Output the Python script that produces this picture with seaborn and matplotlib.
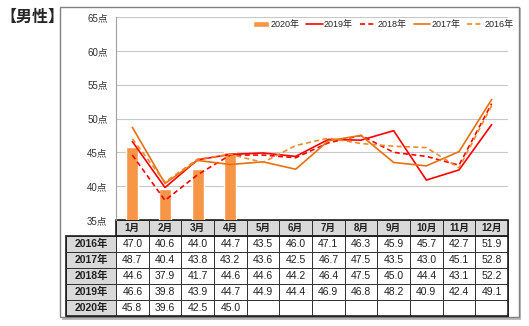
import numpy as np
import pandas as pd
import matplotlib
matplotlib.use("Agg")
import matplotlib.pyplot as plt
import seaborn as sns
from matplotlib.patches import Rectangle

months = ["1月", "2月", "3月", "4月", "5月", "6月", "7月", "8月", "9月", "10月", "11月", "12月"]
v2016 = [47.0, 40.6, 44.0, 44.7, 43.5, 46.0, 47.1, 46.3, 45.9, 45.7, 42.7, 51.9]
v2017 = [48.7, 40.4, 43.8, 43.2, 43.6, 42.5, 46.7, 47.5, 43.5, 43.0, 45.1, 52.8]
v2018 = [44.6, 37.9, 41.7, 44.6, 44.6, 44.2, 46.4, 47.5, 45.0, 44.4, 43.1, 52.2]
v2019 = [46.6, 39.8, 43.9, 44.7, 44.9, 44.4, 46.9, 46.8, 48.2, 40.9, 42.4, 49.1]
v2020 = [45.8, 39.6, 42.5, 45.0]
row_labels = ["2016年", "2017年", "2018年", "2019年", "2020年"]
yticks = [35, 40, 45, 50, 55, 60, 65]

sns.set_style("white")
plt.rcParams["font.family"] = ["Liberation Sans", "Noto Sans CJK JP", "DejaVu Sans"]

fig = plt.figure(figsize=(5.29, 3.26), dpi=100)
W, H = 529, 326
# outer frame with shadow
fig.patches.append(Rectangle((62 / W, 1 - 320 / H), 459 / W, 312 / H, transform=fig.transFigure,
                             facecolor="#bdbdbd", edgecolor="none", zorder=-3))
fig.patches.append(Rectangle((60 / W, 1 - 317 / H), 459 / W, 310 / H, transform=fig.transFigure,
                             facecolor="white", edgecolor="#808080", linewidth=1.0, zorder=-2))
fig.text(0.0, 1 - 17 / H, "【男性】", fontsize=11.5, fontweight="bold",
         family=["Noto Sans CJK JP"], va="center", ha="left")

AXW, AXH = 392, 203
ax = fig.add_axes([116 / W, 1 - 220 / H, AXW / W, AXH / H])
ax.set_facecolor("none")

x = np.arange(len(months))
df_bar = pd.DataFrame({"month": months[:len(v2020)], "val": v2020})
sns.barplot(data=df_bar, x="month", y="val", order=months, color="#F79646", saturation=1,
            width=0.37, ax=ax, label="2020年", zorder=2)

series = [
    ("2019年", v2019, "#FF0000", "-"),
    ("2018年", v2018, "#FF0000", (0, (3, 2))),
    ("2017年", v2017, "#E8700F", "-"),
    ("2016年", v2016, "#EE8A2E", (0, (3, 2))),
]
for name, vals, col, ls in series:
    sns.lineplot(x=x, y=vals, color=col, linestyle=ls, linewidth=1.2, ax=ax, label=name, zorder=3)

ax.set_xlim(-0.5, 11.5)
ax.set_ylim(35, 65)
ax.set_yticks(yticks)
ax.set_yticklabels([f"{t}点" for t in yticks], fontsize=7, color="#303030")
ax.set_xticks([])
ax.set_xlabel("")
ax.set_ylabel("")
ax.tick_params(axis="y", length=0, pad=6)
for t in yticks[1:]:
    ax.axhline(t, color="#c8c8c8", linewidth=0.8, zorder=1)
for s in ["top", "right", "bottom"]:
    ax.spines[s].set_visible(False)
ax.spines["left"].set_color("#a0a0a0")
ax.spines["left"].set_linewidth(0.8)

handles, labels = ax.get_legend_handles_labels()
order = [labels.index(l) for l in ["2020年", "2019年", "2018年", "2017年", "2016年"]]
ax.legend([handles[i] for i in order], [labels[i] for i in order],
          loc="center right", bbox_to_anchor=(1.0153, 0.963), ncol=5, frameon=False, fontsize=6.5,
          handlelength=1.8, handletextpad=0.15, columnspacing=0.78, borderaxespad=0.0,
          borderpad=0.0)

# table drawn manually in axes coordinates
rows_vals = [v2016, v2017, v2018, v2019, v2020]
cw = 1.0 / 12
rlw = 50 / AXW
row_h = 16 / AXH
hdr_bg = "#d9d9d9"
edge = "#303030"
tkw = dict(transform=ax.transAxes, clip_on=False)


def cell(x0, y0, w, h, fc):
    ax.add_patch(Rectangle((x0, y0), w, h, facecolor=fc, edgecolor=edge, linewidth=0.7, **tkw))


# header row
for j, m in enumerate(months):
    y0 = -row_h
    cell(j * cw, y0, cw, row_h, hdr_bg)
    ax.text(j * cw + cw / 2, y0 + row_h / 2, m, ha="center", va="center", fontsize=7,
            fontweight="bold", color="#202020", **tkw)
for i, (lab, vals) in enumerate(zip(row_labels, rows_vals), start=2):
    y0 = -i * row_h
    cell(-rlw, y0, rlw, row_h, hdr_bg)
    ax.text(-rlw / 2, y0 + row_h / 2, lab, ha="center", va="center", fontsize=7.5,
            fontweight="bold", color="#202020", **tkw)
    for j in range(len(months)):
        cell(j * cw, y0, cw, row_h, "white")
        if j < len(vals):
            ax.text(j * cw + cw / 2, y0 + row_h / 2, f"{vals[j]:.1f}", ha="center", va="center",
                    fontsize=7.5, color="#202020", **tkw)
# thicker outer border
ax.add_patch(Rectangle((-rlw, -6 * row_h), 1 + rlw, 5 * row_h, facecolor="none", edgecolor="#202020",
                       linewidth=1.2, **tkw))
ax.add_patch(Rectangle((0, -row_h), 1, row_h, facecolor="none", edgecolor="#202020",
                       linewidth=1.2, **tkw))

fig.savefig("out.png", dpi=100)
